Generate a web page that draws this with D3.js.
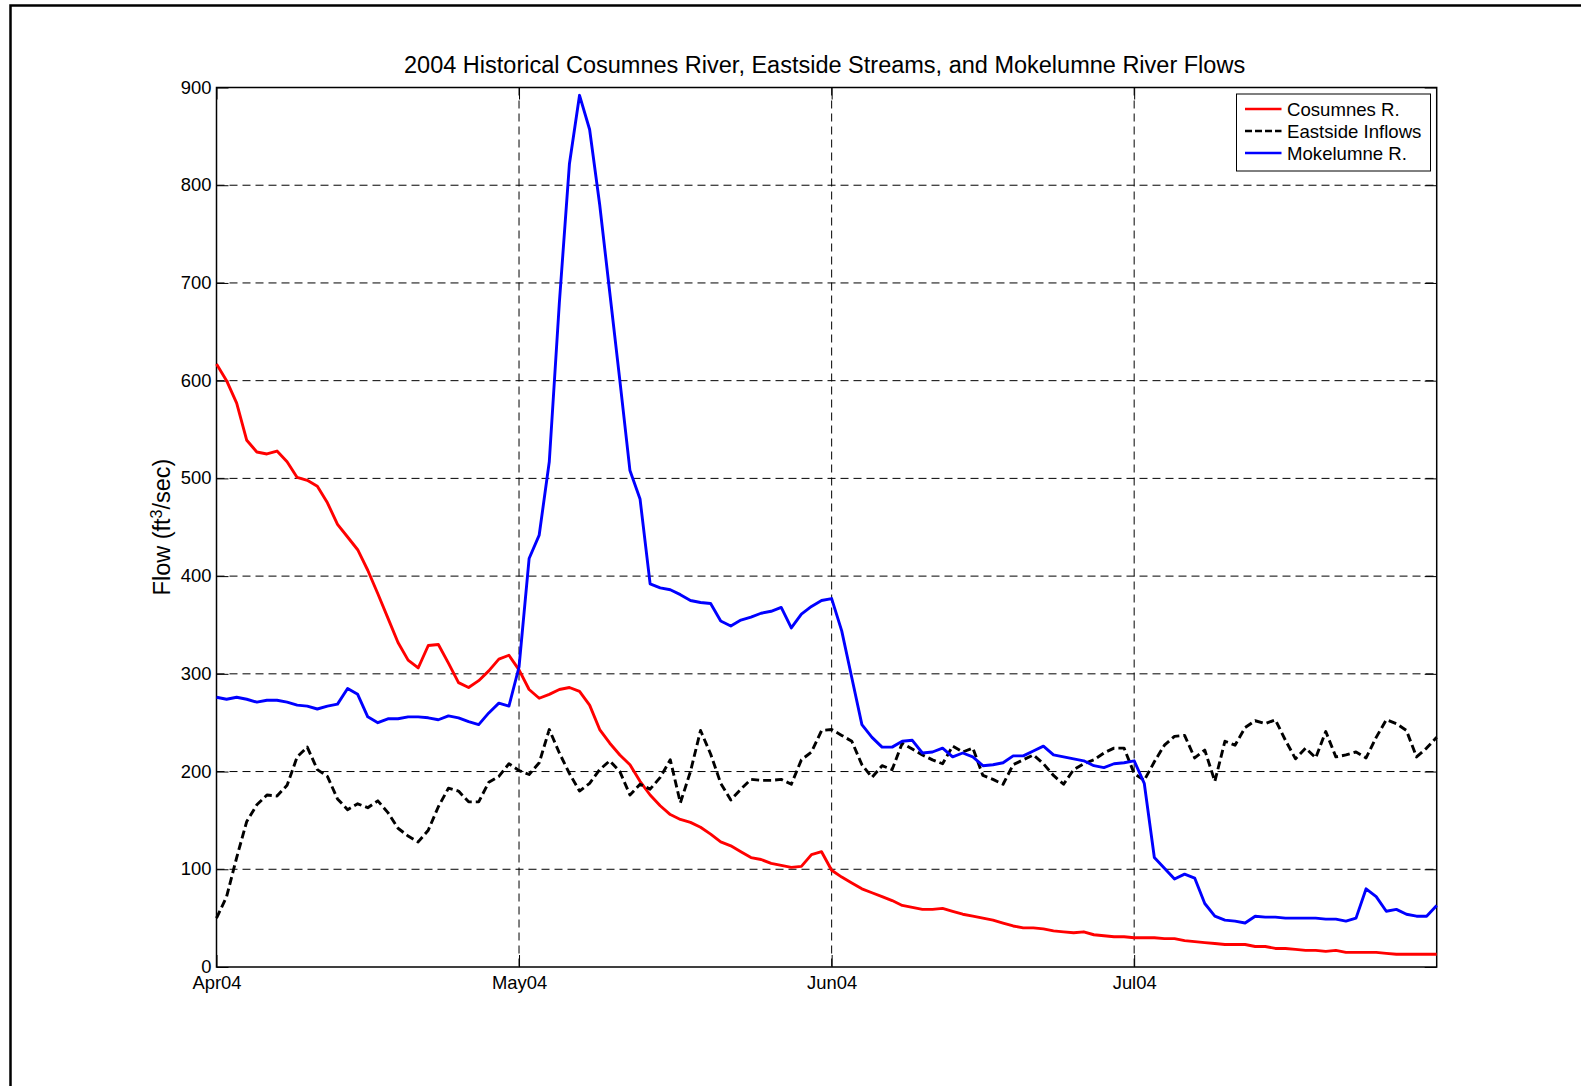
<!DOCTYPE html>
<html>
<head>
<meta charset="utf-8">
<script src="https://cdn.jsdelivr.net/npm/d3@7"></script>
<style>
  body { margin: 0; background: #fff; }
  svg { display: block; font-family: "Liberation Sans", Arial, sans-serif; }
</style>
</head>
<body>
<div id="chart"></div>
<script>
// daily flows, 1 Apr 2004 .. 31 Jul 2004 (cfs)
const cosumnes = [
  617, 600, 577, 539, 527, 525, 528, 517, 501, 498,
  492, 475, 453, 440, 427, 406, 382, 357, 332, 314,
  306, 329, 330, 311, 291, 286, 293, 303, 315, 319,
  304, 284, 275, 279, 284, 286, 282, 268, 243, 229,
  217, 207, 190, 176, 165, 156, 151, 148, 143, 136,
  128, 124, 118, 112, 110, 106, 104, 102, 103, 115,
  118, 99, 92, 86, 80, 76, 72, 68, 63, 61,
  59, 59, 60, 57, 54, 52, 50, 48, 45, 42,
  40, 40, 39, 37, 36, 35, 36, 33, 32, 31,
  31, 30, 30, 30, 29, 29, 27, 26, 25, 24,
  23, 23, 23, 21, 21, 19, 19, 18, 17, 17,
  16, 17, 15, 15, 15, 15, 14, 13, 13, 13,
  13, 13
];
const eastside = [
  50, 72, 112, 149, 166, 176, 175, 186, 215, 225,
  202, 195, 172, 161, 167, 163, 170, 158, 142, 134,
  128, 140, 164, 183, 180, 169, 169, 189, 195, 208,
  201, 197, 209, 243, 219, 198, 180, 188, 202, 211,
  200, 176, 187, 182, 194, 212, 168, 200, 242, 218,
  188, 171, 182, 192, 191, 191, 192, 187, 212, 220,
  242, 243, 237, 231, 207, 194, 206, 202, 229, 223,
  217, 212, 208, 226, 220, 224, 196, 192, 187, 207,
  212, 217, 208, 196, 187, 202, 208, 212, 219, 224,
  224, 198, 191, 210, 227, 236, 237, 214, 222, 190,
  231, 227, 245, 252, 249, 253, 232, 213, 224, 214,
  241, 215, 217, 220, 214, 235, 253, 249, 242, 215,
  224, 235
];
const mokelumne = [
  276, 274, 276, 274, 271, 273, 273, 271, 268, 267,
  264, 267, 269, 285, 279, 256, 250, 254, 254, 256,
  256, 255, 253, 257, 255, 251, 248, 260, 270, 267,
  307, 418, 442, 517, 680, 822, 892, 857, 780, 690,
  600, 508, 479, 392, 388, 386, 381, 375, 373, 372,
  354, 349, 355, 358, 362, 364, 368, 347, 361, 369,
  375, 377, 344, 296, 248, 235, 225, 225, 231, 232,
  219, 220, 224, 215, 219, 215, 206, 207, 209, 216,
  216, 221, 226, 217, 215, 213, 211, 206, 204, 208,
  209, 211, 188, 112, 101, 90, 95, 91, 65, 52,
  48, 47, 45, 52, 51, 51, 50, 50, 50, 50,
  49, 49, 47, 50, 80, 72, 57, 59, 54, 52,
  52, 63
];

const xTickLabels = ["Apr04", "May04", "Jun04", "Jul04"];
const xTickDates = [new Date(Date.UTC(2004, 3, 1)), new Date(Date.UTC(2004, 4, 1)),
                    new Date(Date.UTC(2004, 5, 1)), new Date(Date.UTC(2004, 6, 1))];
const yTicks = [0, 100, 200, 300, 400, 500, 600, 700, 800, 900];

const seriesNames = ["Cosumnes R.", "Eastside Inflows", "Mokelumne R."];
const seriesColors = ["#ff0000", "#000000", "#0000ff"];
const seriesDash = [null, "8,4", null];

const WIDTH = 1581;
const HEIGHT = 1086;
const LEFT = 216.5, RIGHT = 1436.7, TOP = 87.5, BOTTOM = 967;
const TICK = 12;

const startDate = new Date(Date.UTC(2004, 3, 1));
const dates = cosumnes.map((_, i) => d3.utcDay.offset(startDate, i));

const svg = d3.select("#chart")
  .append("svg")
    .attr("width", WIDTH)
    .attr("height", HEIGHT);

// figure frame
svg.append("rect")
  .attr("x", 10.5).attr("y", 5.5)
  .attr("width", 1700).attr("height", 1300)
  .attr("fill", "none")
  .attr("stroke", "#000")
  .attr("stroke-width", 2.5);

const x = d3.scaleUtc()
  .domain([startDate, new Date(Date.UTC(2004, 6, 31))])
  .range([LEFT, RIGHT]);

const y = d3.scaleLinear()
  .domain([0, 900])
  .range([BOTTOM, TOP]);

// dashed grid
const grid = svg.append("g")
  .attr("stroke", "#000")
  .attr("stroke-width", 1)
  .attr("stroke-dasharray", "8,5");

grid.selectAll("line.hgrid")
  .data(yTicks.slice(1, -1))
  .enter().append("line")
    .attr("x1", LEFT).attr("x2", RIGHT)
    .attr("y1", d => y(d)).attr("y2", d => y(d));

grid.selectAll("line.vgrid")
  .data(xTickDates.slice(1))
  .enter().append("line")
    .attr("x1", d => x(d)).attr("x2", d => x(d))
    .attr("y1", TOP).attr("y2", BOTTOM);

// axes: MATLAB-like inward ticks on all four sides
const axisLeft = d3.axisLeft(y).tickValues(yTicks).tickSizeInner(-TICK).tickSizeOuter(0).tickPadding(5);
const axisRight = d3.axisRight(y).tickValues(yTicks).tickSizeInner(-TICK).tickSizeOuter(0).tickFormat("");
const axisBottom = d3.axisBottom(x).tickValues(xTickDates).tickSizeInner(-TICK).tickSizeOuter(0)
  .tickPadding(8)
  .tickFormat((d, i) => xTickLabels[i]);
const axisTop = d3.axisTop(x).tickValues(xTickDates).tickSizeInner(-TICK).tickSizeOuter(0).tickFormat("");

function styleAxis(g) {
  g.select(".domain").remove();
  g.selectAll("line").attr("stroke", "#000").attr("stroke-width", 1);
  g.selectAll("text").attr("fill", "#000").style("font-size", "18.4px")
    .style("font-family", "'Liberation Sans', Arial, sans-serif");
}

svg.append("g").attr("transform", `translate(${LEFT},0)`).call(axisLeft).call(styleAxis)
  .selectAll("text").attr("dy", "0.3em");
svg.append("g").attr("transform", `translate(${RIGHT},0)`).call(axisRight).call(styleAxis);
svg.append("g").attr("transform", `translate(0,${BOTTOM})`).call(axisBottom).call(styleAxis)
  .selectAll("text").attr("dy", null).attr("y", 21.5);
svg.append("g").attr("transform", `translate(0,${TOP})`).call(axisTop).call(styleAxis);

// plot box
svg.append("rect")
  .attr("x", LEFT).attr("y", TOP)
  .attr("width", RIGHT - LEFT).attr("height", BOTTOM - TOP)
  .attr("fill", "none")
  .attr("stroke", "#000")
  .attr("stroke-width", 1.5);

// series
const line = d3.line()
  .x((d, i) => x(dates[i]))
  .y(d => y(d));

[cosumnes, eastside, mokelumne].forEach((vals, k) => {
  svg.append("path")
    .datum(vals)
    .attr("d", line)
    .attr("fill", "none")
    .attr("stroke", seriesColors[k])
    .attr("stroke-width", 2.9)
    .attr("stroke-linejoin", "round")
    .attr("stroke-dasharray", seriesDash[k]);
});

// title
svg.append("text")
  .attr("x", (LEFT + RIGHT) / 2 - 2)
  .attr("y", 72.5)
  .attr("text-anchor", "middle")
  .style("font-size", "23.5px")
  .text("2004 Historical Cosumnes River, Eastside Streams, and Mokelumne River Flows");

// y label with superscript
const ylab = svg.append("text")
  .attr("transform", "translate(169.5,527) rotate(-90)")
  .attr("text-anchor", "middle")
  .style("font-size", "23.5px");
ylab.append("tspan").text("Flow (ft");
ylab.append("tspan").attr("baseline-shift", "super").style("font-size", "16px").text("3");
ylab.append("tspan").text("/sec)");

// legend
const legend = svg.append("g").attr("transform", "translate(1236.5,94)");
legend.append("rect")
  .attr("width", 194).attr("height", 77)
  .attr("fill", "#fff")
  .attr("stroke", "#000")
  .attr("stroke-width", 1);

const rows = legend.selectAll("g.row")
  .data(seriesNames)
  .enter().append("g")
    .attr("transform", (d, i) => `translate(0,${15 + i * 22})`);

rows.append("line")
  .attr("x1", 8.5).attr("x2", 45)
  .attr("stroke", (d, i) => seriesColors[i])
  .attr("stroke-width", 2.5)
  .attr("stroke-dasharray", (d, i) => i === 1 ? "7,3" : null);

rows.append("text")
  .attr("x", 50.5)
  .attr("dy", "0.36em")
  .style("font-size", "18.6px")
  .text(d => d);
</script>
</body>
</html>
